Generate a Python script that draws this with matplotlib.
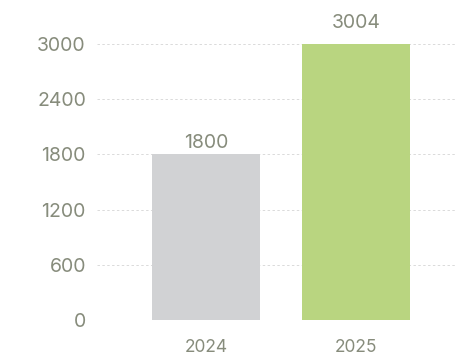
import matplotlib
matplotlib.use("Agg")
import matplotlib.pyplot as plt

years = ["2024", "2025"]
values = [1800, 3004]
bar_colors = ["#d1d2d4", "#b9d580"]
y_ticks = [0, 600, 1200, 1800, 2400, 3000]

text_color = "#878c7c"
plt.rcParams["font.family"] = ["Inter", "DejaVu Sans"]

fig = plt.figure(figsize=(4.55, 3.56), dpi=100)
ax = fig.add_axes([97 / 455, 36 / 356, 358 / 455, 276 / 356])

x = range(len(years))
bars = ax.bar(x, values, width=0.72, color=bar_colors, zorder=2, clip_on=False)

# value labels above each bar (the tallest one sits a bit higher in the original)
offsets = [2, 8.5]
for rect, v, off in zip(bars, values, offsets):
    ax.annotate(str(v), (rect.get_x() + rect.get_width() / 2, v),
                xytext=(0, off), textcoords="offset points",
                ha="center", va="bottom", fontsize=14, color=text_color,
                annotation_clip=False)

ax.set_xlim(-0.727, 1.66)
ax.set_ylim(0, 3000)
ax.set_yticks(y_ticks)
ax.set_xticks(list(x))
ax.set_xticklabels(years)

ax.yaxis.grid(True, color="#dadada", linestyle=(0, (2.5, 2.5)), linewidth=0.7, zorder=0)
ax.set_axisbelow(True)
for s in ax.spines.values():
    s.set_visible(False)

ax.tick_params(axis="y", length=0, pad=8, labelsize=14, labelcolor=text_color)
ax.tick_params(axis="x", length=0, pad=14, labelsize=12.5, labelcolor=text_color)

fig.savefig("out.png", dpi=100)
